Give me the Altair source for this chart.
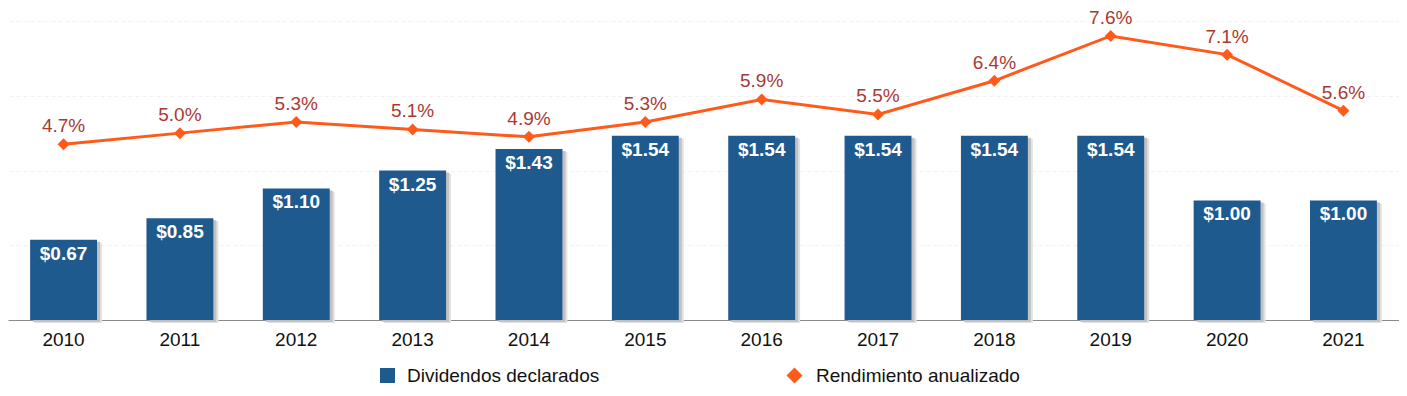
import altair as alt
import pandas as pd

years = ["2010", "2011", "2012", "2013", "2014", "2015", "2016", "2017", "2018", "2019", "2020", "2021"]
dividends = [0.67, 0.85, 1.10, 1.25, 1.43, 1.54, 1.54, 1.54, 1.54, 1.54, 1.00, 1.00]
yields = [4.7, 5.0, 5.3, 5.1, 4.9, 5.3, 5.9, 5.5, 6.4, 7.6, 7.1, 5.6]
series_bar = "Dividendos declarados"
series_line = "Rendimiento anualizado"

BLUE = "#1f5a8f"
ORANGE = "#ff5a1a"
RED = "#a83a33"
FONT = "Liberation Sans"

df = pd.DataFrame({"year": years, "div": dividends, "yld": yields,
                   "s1": series_bar, "s2": series_line})

x = alt.X("year:O", sort=years,
          scale=alt.Scale(paddingInner=0.425, paddingOuter=0.19),
          axis=alt.Axis(title=None, labelAngle=0, ticks=False, domainColor="#8a8a8a",
                        domainWidth=1, labelFontSize=19, labelColor="#111111",
                        labelPadding=10, labelFont=FONT))

ybar = alt.Y("div:Q", scale=alt.Scale(domain=[0, 2.5], nice=False, zero=True), axis=None)

base = alt.Chart(df)

shadow2 = base.mark_bar(color="#e2e2e2", xOffset=5, yOffset=3).encode(x=x, y=ybar)
shadow1 = base.mark_bar(color="#c2c2c2", xOffset=3, yOffset=2).encode(x=x, y=ybar)
bars = base.mark_bar().encode(
    x=x, y=ybar,
    color=alt.Color("s1:N", scale=alt.Scale(domain=[series_bar], range=[BLUE]),
                    legend=alt.Legend(title=None, orient="none", legendX=370, legendY=345,
                                      symbolType="square", symbolSize=225, symbolStrokeWidth=0,
                                      labelFontSize=19, labelFont=FONT, labelColor="#111111",
                                      labelOffset=10, padding=0, labelLimit=0)))
barlabels = base.transform_calculate(
    lab="'$' + format(datum.div, '.2f')"
).mark_text(color="white", fontWeight="bold", fontSize=19, font=FONT,
            baseline="middle", dy=14).encode(x=x, y=ybar, text="lab:N")

bar_layer = alt.layer(shadow2, shadow1, bars, barlabels)

yline = alt.Y("yld:Q", scale=alt.Scale(domain=[0, 8], nice=False, zero=True),
              axis=alt.Axis(title=None, labels=False, ticks=False, domain=False, grid=True,
                            values=[0, 2, 4, 6, 8], gridColor="#f1f1f1", gridDash=[4, 3],
                            orient="right"))

line = base.mark_line(color=ORANGE, strokeWidth=3).encode(x=x, y=yline)
points = base.mark_point(filled=True, color=ORANGE, opacity=1, size=144).encode(
    x=x, y=yline,
    shape=alt.Shape("s2:N", scale=alt.Scale(domain=[series_line], range=["diamond"]),
                    legend=alt.Legend(title=None, orient="none", legendX=777, legendY=345,
                                      symbolSize=256, symbolFillColor=ORANGE,
                                      symbolStrokeColor=ORANGE, symbolStrokeWidth=0,
                                      labelFontSize=19, labelFont=FONT, labelColor="#111111",
                                      labelOffset=12, padding=0, labelLimit=0)))
linelabels = base.transform_calculate(
    lab="format(datum.yld, '.1f') + '%'"
).mark_text(color=RED, fontSize=19, font=FONT, baseline="middle", dy=-18).encode(
    x=x, y=yline, text="lab:N")

line_layer = alt.layer(line, points, linelabels)

chart = alt.layer(bar_layer, line_layer).resolve_scale(
    y="independent"
).properties(
    width=1391, height=299,
    padding={"left": 0, "right": 0, "top": 13, "bottom": 66},
    autosize=alt.AutoSizeParams(type="none"),
).configure_view(stroke=None)

chart.save("out.html", embed_options={"renderer": "svg", "actions": False})
